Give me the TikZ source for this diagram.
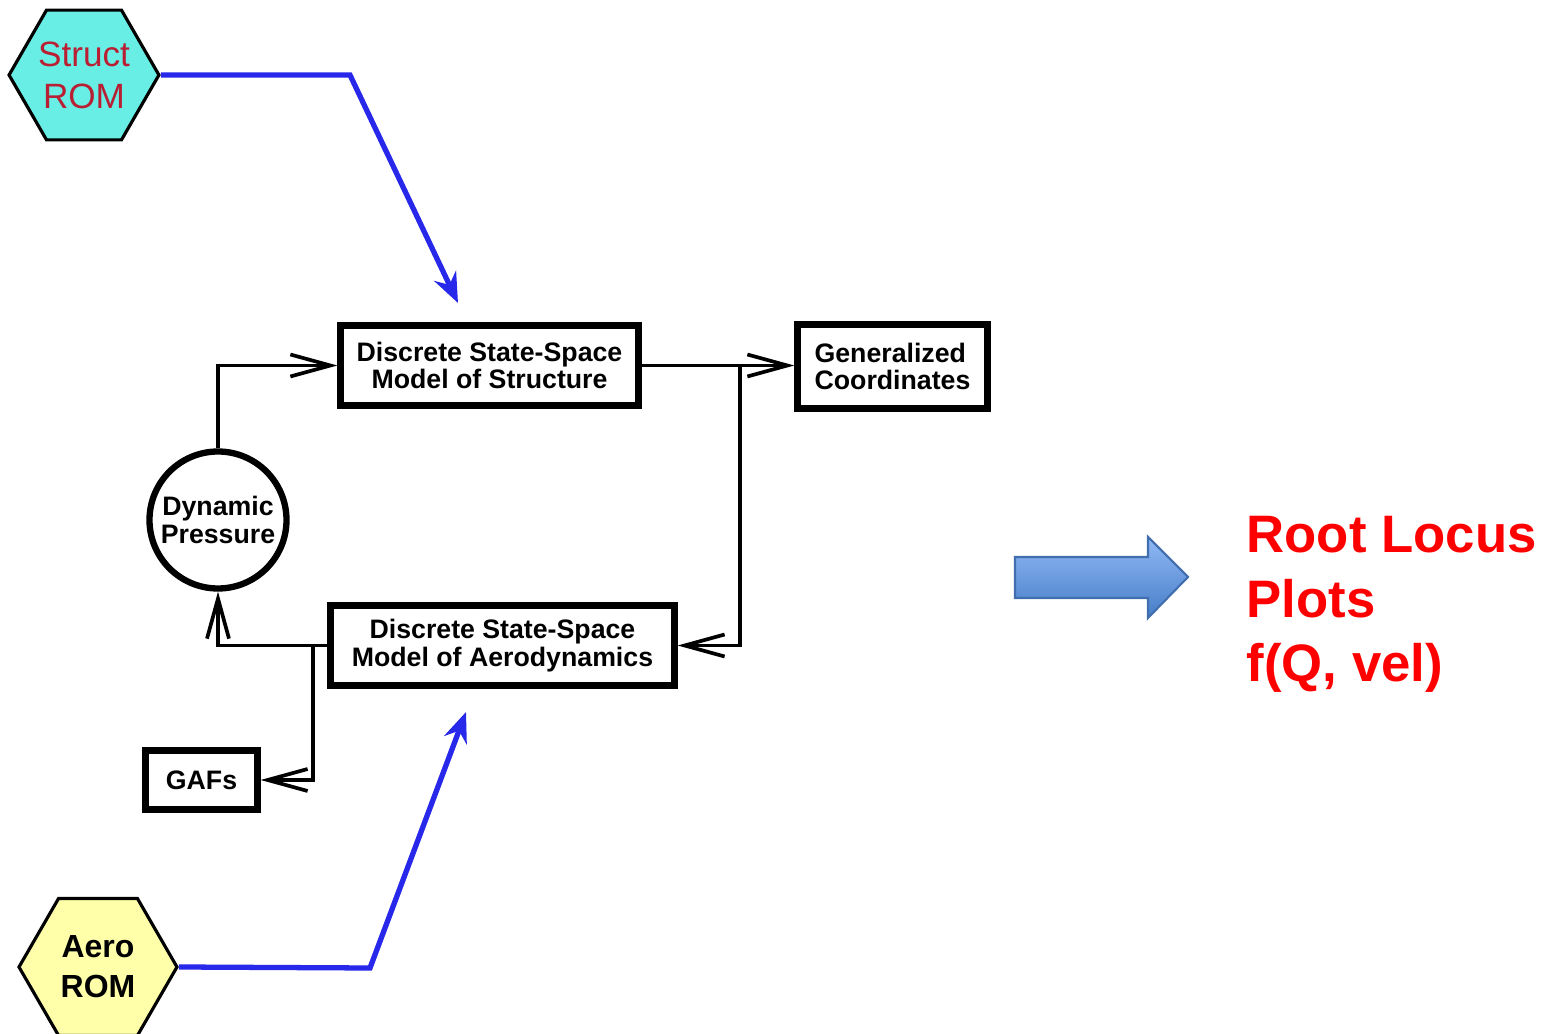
\documentclass[tikz,border=0pt]{standalone}
\usepackage{fontspec}
\setmainfont{Liberation Sans}
\usepackage{xcolor}
\usetikzlibrary{shapes,arrows,positioning,calc,arrows.meta}

\definecolor{romcyan}{RGB}{104,238,228}
\definecolor{romred}{RGB}{185,30,50}
\definecolor{aeroyellow}{RGB}{255,255,170}
\definecolor{feedblue}{RGB}{40,40,235}
\definecolor{arrowtop}{RGB}{145,185,245}
\definecolor{arrowbot}{RGB}{70,125,200}
\definecolor{arrowedge}{RGB}{65,110,175}
\definecolor{rootred}{RGB}{255,0,0}

\begin{document}
\begin{tikzpicture}[
    sysbox/.style={draw, line width=1.8pt, align=center, inner sep=0pt,
        font=\bfseries\fontsize{7.6}{7.8}\selectfont},
    romhex/.style={draw, line width=0.9pt, regular polygon, regular polygon sides=6,
        inner sep=0pt, align=center},
    flow/.style={line width=1.05pt, -{Straight Barb[length=4mm,width=2.2mm]}},
    feed/.style={line width=1.5pt, draw=feedblue, -{Stealth[length=3mm,width=2.4mm,inset=1mm]}}
]
    \useasboundingbox (0,0) rectangle (15.49,-10.34);

    % ROM sources
    \node[romhex, fill=romcyan, minimum size=1.47cm, text=romred,
        font=\fontsize{10}{12}\selectfont] (sr) at (0.84,-0.75) {Struct\\ROM};
    \node[romhex, fill=aeroyellow, minimum size=1.58cm,
        font=\bfseries\fontsize{9.1}{11.4}\selectfont] (ar) at (0.98,-9.67) {Aero\\ROM};

    % System blocks
    \node[sysbox, minimum width=2.98cm, minimum height=0.80cm] (sss) at (4.895,-3.655)
        {Discrete State-Space\\Model of Structure};
    \node[sysbox, minimum width=1.90cm, minimum height=0.84cm, align=left] (gc) at (8.925,-3.665)
        {Generalized\\Coordinates};
    \node[sysbox, minimum width=3.44cm, minimum height=0.80cm] (asa) at (5.025,-6.455)
        {Discrete State-Space\\Model of Aerodynamics};
    \node[sysbox, minimum width=1.12cm, minimum height=0.59cm] (gaf) at (2.015,-7.80) {GAFs};
    \node[sysbox, circle, minimum size=1.37cm] (dp) at (2.18,-5.20) {Dynamic\\Pressure};

    % Loop
    \coordinate (tap1) at (7.40,-3.655);
    \coordinate (tap2) at (3.13,-6.455);
    \draw[flow] (dp.north) |- (sss.west);
    \draw[flow] (sss.east) -- (tap1 -| gc.west);
    \draw[flow] (tap1) |- (asa.east);
    \draw[flow] (asa.west) -| (dp.south);
    \draw[flow] (tap2) |- (gaf.east);

    % ROM inputs
    \coordinate (sbend) at (3.50,-0.75);
    \coordinate (stip) at (4.58,-3.03);
    \draw[feed] (sr.east) -- (sbend) -- (stip);
    \coordinate (abend) at (3.70,-9.68);
    \coordinate (atip) at (4.66,-7.12);
    \draw[feed] (ar.east) -- (abend) -- (atip);

    % Result
    \shade[top color=arrowtop, bottom color=arrowbot, draw=arrowedge, line width=0.6pt]
        (10.15,-5.57) -- (11.48,-5.57) -- (11.48,-5.37) -- (11.88,-5.77)
        -- (11.48,-6.18) -- (11.48,-5.98) -- (10.15,-5.98) -- cycle;
    \node[anchor=base west, align=left, inner sep=0pt, text=rootred,
        font=\bfseries\fontsize{15}{18.4}\selectfont] (rl) at (12.46,-6.82)
        {Root Locus\\Plots\\f(Q, vel)};
\end{tikzpicture}
\end{document}
